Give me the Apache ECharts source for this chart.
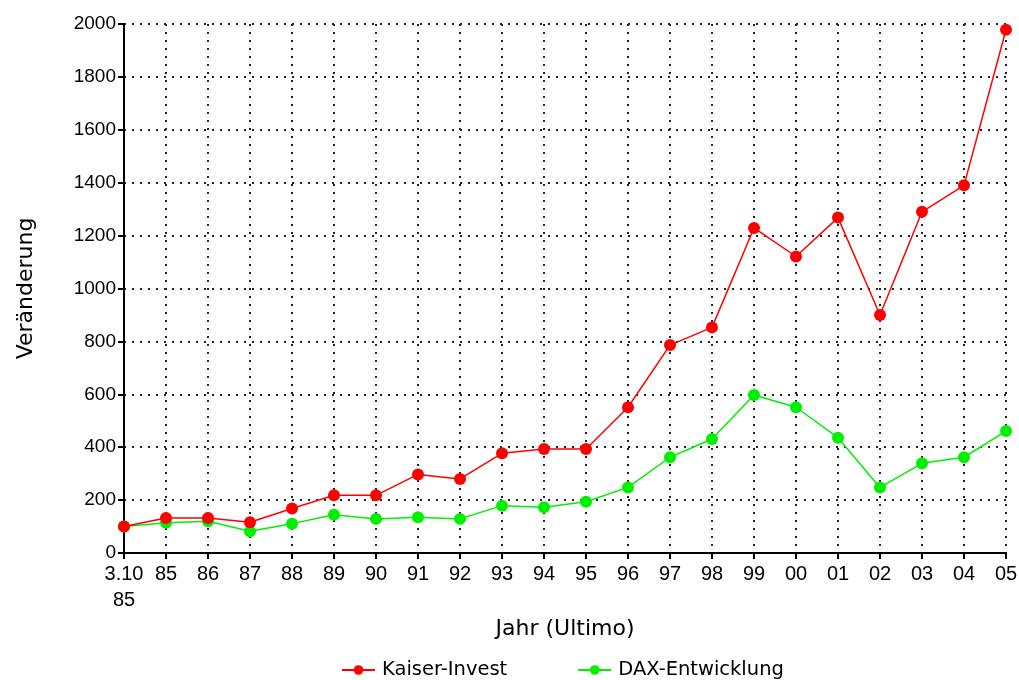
<!DOCTYPE html>
<html>
<head>
<meta charset="utf-8">
<script src="https://cdn.jsdelivr.net/npm/echarts@6/dist/echarts.min.js"></script>
<style>
    html, body { margin: 0; padding: 0; background: #fff; }
    #main { width: 1019px; height: 680px; }
</style>
</head>
<body>
<div id="main"></div>
<script>
// Jahre (Ultimo)
var years = ['3.10\n85', '85', '86', '87', '88', '89', '90', '91', '92', '93', '94',
    '95', '96', '97', '98', '99', '00', '01', '02', '03', '04', '05'];
// Kaiser-Invest
var kaiser = [100, 132, 132, 116, 168, 218, 218, 297, 280, 377, 393,
    393, 551, 786, 853, 1229, 1121, 1268, 900, 1290, 1390, 1978];
// DAX-Entwicklung
var dax = [100, 114, 120, 82, 111, 145, 129, 135, 129, 179, 173,
    194, 248, 362, 431, 597, 551, 436, 248, 339, 362, 461];

var yTicks = { min: 0, max: 2000, interval: 200 };

var font = 'Liberation Sans, Arial, sans-serif';
var wideFont = 'DejaVu Sans, Verdana, sans-serif';
var dotted = { color: '#222', width: 2, type: [2, 6] };

var myChart = echarts.init(document.getElementById('main'));

var option = {
    animation: false,
    textStyle: { fontFamily: font },
    grid: { left: 124, right: 13, top: 24, bottom: 127, outerBoundsMode: 'none' },
    legend: {
        top: 655,
        left: 336,
        itemWidth: 33,
        itemHeight: 12,
        itemGap: 70,
        textStyle: { fontSize: 19.5, color: '#000', fontFamily: wideFont, padding: [0, 0, 0, 2] },
        data: ['Kaiser-Invest', 'DAX-Entwicklung']
    },
    xAxis: {
        type: 'category',
        boundaryGap: false,
        data: years,
        name: 'Jahr (Ultimo)',
        nameLocation: 'middle',
        nameGap: 64,
        nameTextStyle: { fontSize: 22, color: '#000', fontFamily: wideFont },
        axisLine: { lineStyle: { color: '#000', width: 2 } },
        axisTick: { length: 6, lineStyle: { color: '#000', width: 2 } },
        axisLabel: { interval: 0, fontSize: 20, color: '#000', margin: 8, lineHeight: 26 },
        splitLine: { show: true, lineStyle: dotted }
    },
    yAxis: {
        type: 'value',
        min: yTicks.min,
        max: yTicks.max,
        interval: yTicks.interval,
        name: 'Veränderung',
        nameLocation: 'middle',
        nameGap: 87,
        nameTextStyle: { fontSize: 22, color: '#000', fontFamily: wideFont },
        axisLine: { show: true, lineStyle: { color: '#000', width: 2 } },
        axisTick: { show: true, length: 6, lineStyle: { color: '#000', width: 2 } },
        axisLabel: {
            fontSize: 19, color: '#000', margin: 8,
            formatter: function (v) { return String(v); }
        },
        splitLine: { show: true, lineStyle: dotted }
    },
    series: [
        {
            name: 'Kaiser-Invest',
            type: 'line',
            data: kaiser,
            symbol: 'circle',
            symbolSize: 12,
            color: '#ff0000',
            lineStyle: { width: 1.5 },
            z: 3
        },
        {
            name: 'DAX-Entwicklung',
            type: 'line',
            data: dax,
            symbol: 'circle',
            symbolSize: 12,
            color: '#00f000',
            lineStyle: { width: 1.5 },
            z: 2
        }
    ]
};

myChart.setOption(option);
</script>
</body>
</html>
